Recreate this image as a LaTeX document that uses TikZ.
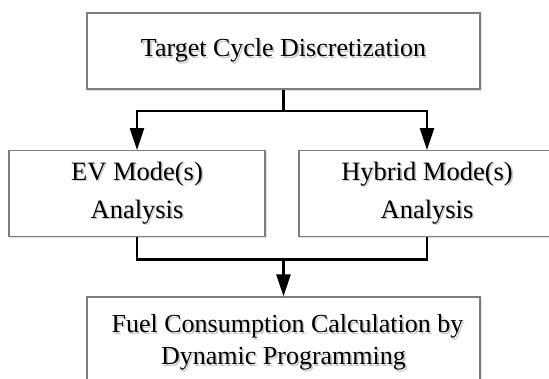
\documentclass[tikz,border=0pt]{standalone}
\usepackage{fontspec}
\setmainfont{Liberation Serif}
\usetikzlibrary{arrows.meta,shadows}
\definecolor{boxgray}{RGB}{125,125,125}
\definecolor{shadegray}{RGB}{200,200,200}
\definecolor{edgeshade}{RGB}{225,225,225}
% text with a soft grey copy set slightly down and to the right
\newcommand\shtext[1]{\makebox[0pt][l]{\hspace{1.6pt}\raisebox{-1.6pt}{\textcolor{shadegray}{#1}}}#1}
\begin{document}
\begin{tikzpicture}[x=1pt,y=-1pt,
  box/.style={draw=boxgray,line width=1.3pt,fill=white,inner sep=0pt,align=center,
    drop shadow={fill=none,draw=edgeshade,line width=1.3pt,shadow xshift=1.6pt,shadow yshift=-1.6pt,opacity=1}},
  bigtext/.style={font=\fontsize{26}{32}\selectfont},
  midtext/.style={font=\fontsize{26.5}{38}\selectfont},
  link/.style={line width=2.6pt,black},
  arr/.style={link,-{Triangle[width=14pt,length=22pt]}}]
\useasboundingbox (0,0) rectangle (549,379);
\clip (0,0) rectangle (549,379);
\fill[white] (0,0) rectangle (549,379);

\node[box,bigtext,minimum width=393pt,minimum height=76pt] (top) at (283.5,51)
  {\shtext{Target Cycle Discretization}};
\node[box,midtext,minimum width=256pt,minimum height=85.5pt] (ev) at (137,193.5)
  {\shtext{EV Mode(s)}\\\shtext{Analysis}};
\node[box,midtext,minimum width=256pt,minimum height=85.5pt] (hy) at (427,193.5)
  {\shtext{Hybrid Mode(s)}\\\shtext{Analysis}};
\node[box,bigtext,minimum width=393pt,minimum height=93pt] (fuel) at (283.5,343.5)
  {\hspace*{8pt}\shtext{Fuel Consumption Calculation by}\\\shtext{Dynamic Programming}};

\coordinate (split) at (283.5,111);
\coordinate (merge) at (283.5,259.5);
\draw[link] (top.south) -- (split);
\draw[arr] (split) -| (ev.north);
\draw[arr] (split) -| (hy.north);
\draw[link] (ev.south) |- (merge);
\draw[link] (hy.south) |- (merge);
\draw[arr] (merge) -- (fuel.north);
\end{tikzpicture}
\end{document}
